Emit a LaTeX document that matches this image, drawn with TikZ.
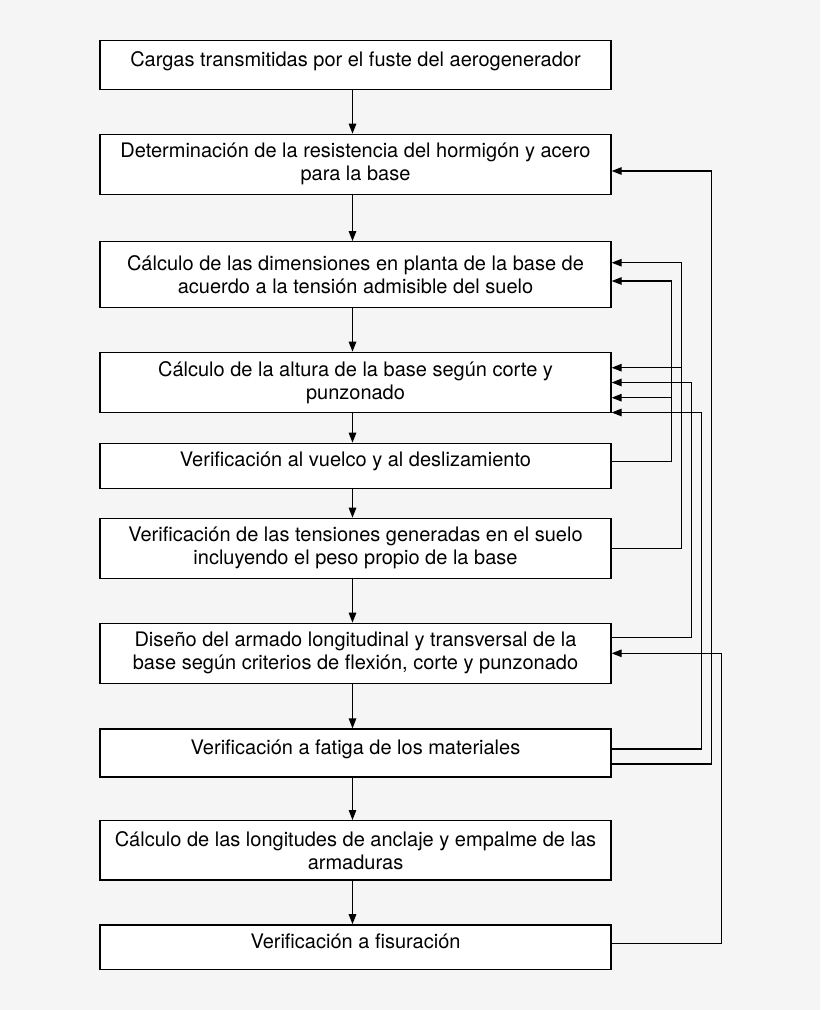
\documentclass[tikz,border=0pt]{standalone}
\usepackage{fontspec}
\setmainfont{TeX Gyre Heros}
\usepackage{tikz}
\usetikzlibrary{arrows.meta}
\definecolor{backgr}{RGB}{245,245,245}

\begin{document}
\begin{tikzpicture}[x=1pt, y=-1pt, line width=1.3pt,
		>={Triangle[length=10pt,width=7.5pt]},
		box/.style={draw, fill=white, minimum width=511pt, inner sep=0pt, align=center,
			font=\fontsize{20pt}{23pt}\selectfont},
		oneline/.style={box, text height=15pt, text depth=13pt}]
			\fill[backgr] (0,0) rectangle (820,1010);
			\node[oneline, minimum height=49pt] (b1) at (355.5,65.3) {Cargas transmitidas por el fuste del aerogenerador};
			\node[box, minimum height=60pt] (b2) at (355.5,164.3) {Determinación de la resistencia del hormigón y acero\\para la base};
			\node[box, minimum height=65.6pt] (b3) at (355.5,274.5) {Cálculo de las dimensiones en planta de la base de\\acuerdo a la tensión admisible del suelo};
			\node[box, minimum height=60.4pt] (b4) at (355.5,382.5) {Cálculo de la altura de la base según corte y\\punzonado};
			\node[oneline, minimum height=45pt] (b5) at (355.5,465.8) {Verificación al vuelco y al deslizamiento};
			\node[box, minimum height=60pt] (b6) at (355.5,548.3) {Verificación de las tensiones generadas en el suelo\\incluyendo el peso propio de la base};
			\node[box, minimum height=60pt] (b7) at (355.5,653.3) {Diseño del armado longitudinal y transversal de la\\base según criterios de flexión, corte y punzonado};
			\node[oneline, minimum height=48pt] (b8) at (355.5,753) {Verificación a fatiga de los materiales};
			\node[box, minimum height=59.3pt] (b9) at (355.5,850.3) {Cálculo de las longitudes de anclaje y empalme de las\\armaduras};
			\node[oneline, minimum height=44.3pt] (b10) at (355.5,947) {Verificación a fisuración};
			% main sequence
			\foreach \a/\b in {b1/b2, b2/b3, b3/b4, b4/b5, b5/b6, b6/b7, b7/b8, b8/b9, b9/b10}
				\draw[->] ([xshift=-3pt]\a.south) -- ([xshift=-3pt]\b.north);
			% feedback loops on the right
			\draw[->] ([yshift=4pt]b5.east) -- ++(60,0) coordinate (r5) |- ([yshift=-6.5pt]b3.east);
			\draw[->] ([yshift=-15.2pt]b4.east -| r5) -- ([yshift=-15.2pt]b4.east);
			\draw[->] (b6.east) -- ++(70,0) coordinate (r6) |- ([yshift=11.8pt]b3.east);
			\draw[->] ([yshift=14.8pt]b4.east -| r6) -- ([yshift=14.8pt]b4.east);
			\draw[->] ([yshift=15.6pt]b7.east) -- ++(80,0) |- (b4.east);
			\draw[->] ([yshift=4pt]b8.east) -- ++(90,0) |- ([yshift=-30pt]b4.east);
			\draw[->] ([yshift=-11pt]b8.east) -- ++(100,0) |- ([yshift=-6.7pt]b2.east);
			\draw[->] ([yshift=3.7pt]b10.east) -- ++(110,0) |- (b7.east);
		\end{tikzpicture}
\end{document}
